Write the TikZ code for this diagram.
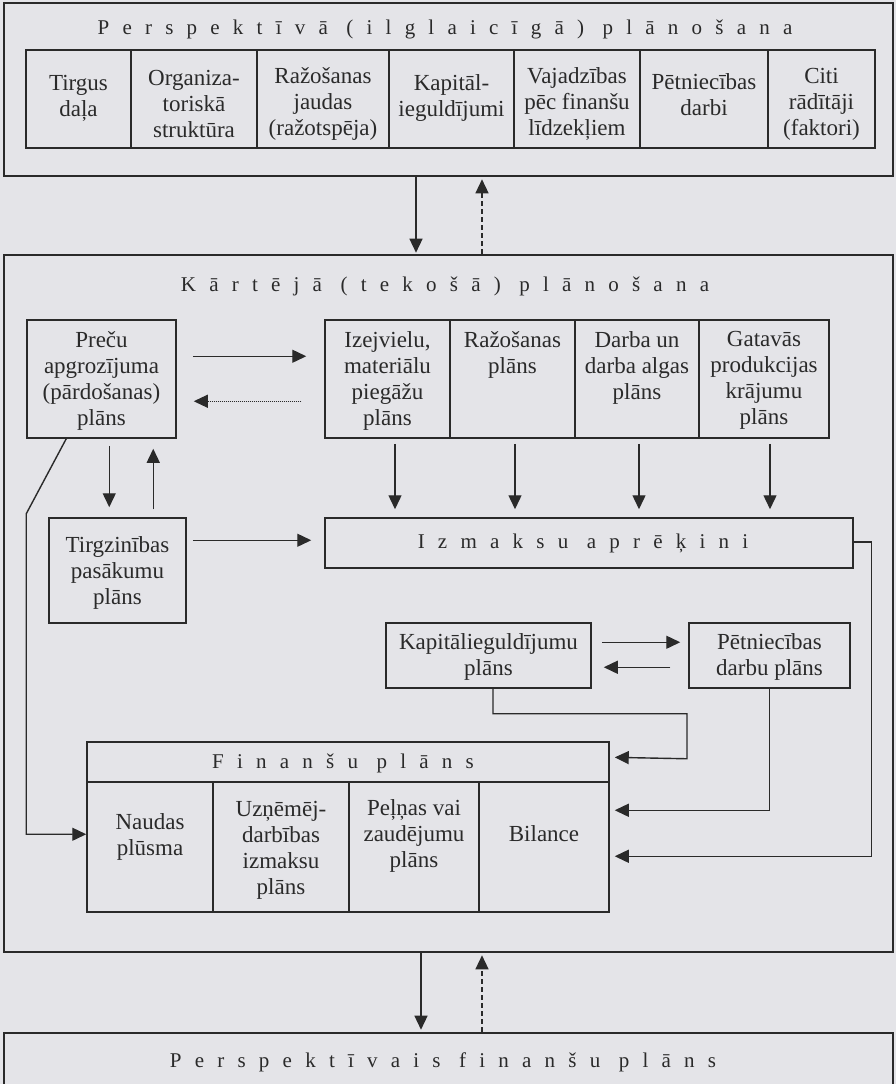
\documentclass[tikz,border=0pt]{standalone}
\usepackage{fontspec}
\setmainfont{Liberation Serif}
\newfontfamily\spacedfont[LetterSpace=63]{Liberation Serif}
\usetikzlibrary{arrows.meta,calc,fit}
\definecolor{paper}{RGB}{228,228,232}
\definecolor{ink}{RGB}{42,42,42}
\begin{document}
\begin{tikzpicture}[x=1pt,y=-1pt,
  outer/.style={draw=ink, line width=2.6pt, inner sep=0pt},
  cell/.style={draw=ink, line width=1.5pt, inner sep=0pt},
  txt/.style={text=ink, font=\fontsize{23}{26}\selectfont, align=center, inner sep=0pt},
  ttl/.style={text=ink, font=\fontsize{21}{24}\spacedfont, inner sep=0pt},
  arr/.style={draw=ink, line width=1.4pt, -{Triangle[length=14pt,width=13pt]}},
  dashedarr/.style={arr, dash pattern=on 5pt off 3pt},
  dottedarr/.style={arr, dash pattern=on 1pt off 1pt, line width=1.1pt},
]
\useasboundingbox (0,0) rectangle (896,1084);
\fill[paper] (0,0) rectangle (896,1084);

% ---------- top block
\node[outer, fit={(4,3) (893,176)}] (persp) {};
\node[ttl] (perspT) at (445,29) {Perspektīvā (ilglaicīgā) plānošana};
\node[cell, fit={(26,50) (131,148)}] (c1) {};
\node[cell, fit={(131,50) (257,148)}] (c2) {};
\node[cell, fit={(257,50) (389,148)}] (c3) {};
\node[cell, fit={(389,50) (514,148)}] (c4) {};
\node[cell, fit={(514,50) (640,148)}] (c5) {};
\node[cell, fit={(640,50) (768,148)}] (c6) {};
\node[cell, fit={(768,50) (875,148)}] (c7) {};
\node[txt] (c1T) at ([yshift=1pt]c1.center) {Tirgus\\daļa};
\node[txt] (c2T) at ([yshift=-5pt]c2.center) {Organiza-\\toriskā\\struktūra};
\node[txt] (c3T) at ([yshift=-5pt]c3.center) {Ražošanas\\jaudas\\(ražotspēja)};
\node[txt] (c4T) at ([yshift=1pt]c4.center) {Kapitāl-\\ieguldījumi};
\node[txt] (c5T) at ([yshift=-5pt]c5.center) {Vajadzības\\pēc finanšu\\līdzekļiem};
\node[txt] (c6T) at ([yshift=4pt]c6.center) {Pētniecības\\darbi};
\node[txt] (c7T) at ([yshift=-5pt]c7.center) {Citi\\rādītāji\\(faktori)};

% ---------- middle block
\node[outer, fit={(4,255) (893,952)}] (kart) {};
\node[ttl] (kartT) at (445,286) {Kārtējā (tekošā) plānošana};

\node[cell, fit={(27,320) (176,438)}] (prec) {};
\node[cell, fit={(325,320) (450,438)}] (izej) {};
\node[cell, fit={(450,320) (575,438)}] (raz) {};
\node[cell, fit={(575,320) (699,438)}] (darb) {};
\node[cell, fit={(699,320) (829,438)}] (gat) {};
\node[txt, anchor=north] (precT) at ([yshift=-12pt]prec.north) {Preču\\apgrozījuma\\(pārdošanas)\\plāns};
\node[txt, anchor=north] (izejT) at ([yshift=-12pt]izej.north) {Izejvielu,\\materiālu\\piegāžu\\plāns};
\node[txt, anchor=north] (razT) at ([yshift=-12pt]raz.north) {Ražošanas\\plāns};
\node[txt, anchor=north] (darbT) at ([yshift=-12pt]darb.north) {Darba un\\darba algas\\plāns};
\node[txt, anchor=north] (gatT) at ([yshift=-12pt]gat.north) {Gatavās\\produkcijas\\krājumu\\plāns};

\node[cell, fit={(49,518) (186,623)}] (tirg) {};
\node[txt] (tirgT) at ([yshift=-2pt]tirg.center) {Tirgzinības\\pasākumu\\plāns};

\node[cell, fit={(325,518) (853,568)}] (izm) {};
\node[ttl] (izmT) at (583,543) {Izmaksu aprēķini};

\node[cell, fit={(386,623) (591,688)}] (kap) {};
\node[txt] (kapT) at ([yshift=-1pt]kap.center) {Kapitālieguldījumu\\plāns};
\node[cell, fit={(689,623) (850,688)}] (pet) {};
\node[txt] (petT) at ([yshift=-1pt]pet.center) {Pētniecības\\darbu plāns};

\node[cell, fit={(87,742) (609,912)}] (fin) {};
\node[cell, fit={(87,742) (609,782)}] (finH) {};
\node[ttl] (finT) at (343,763) {Finanšu plāns};
\node[cell, fit={(87,782) (213,912)}] (f1) {};
\node[cell, fit={(213,782) (349,912)}] (f2) {};
\node[cell, fit={(349,782) (479,912)}] (f3) {};
\node[cell, fit={(479,782) (609,912)}] (f4) {};
\node[txt] (f1T) at (150,837) {Naudas\\plūsma};
\node[txt] (f2T) at (281,850) {Uzņēmēj-\\darbības\\izmaksu\\plāns};
\node[txt] (f3T) at (414,836) {Peļņas vai\\zaudējumu\\plāns};
\node[txt] (f4T) at (544,834) {Bilance};

% ---------- bottom block
\node[outer, fit={(4,1033) (893,1110)}] (pfin) {};
\node[ttl] (pfinT) at (443,1062) {Perspektīvais finanšu plāns};

% ---------- connectors
\draw[arr, shorten >=1pt] ([xshift=-32.5pt]persp.south) -- ([xshift=-32.5pt]kart.north);
\draw[dashedarr, shorten >=2pt] ([xshift=33.5pt]kart.north) -- ([xshift=33.5pt]persp.south);

\draw[arr, shorten <=16pt, shorten >=18pt] ([yshift=-37pt]prec.north east) -- ([yshift=-37pt]izej.north west);
\draw[dottedarr, shorten <=23pt, shorten >=17pt] ([yshift=-82pt]izej.north west) -- ([yshift=-82pt]prec.north east);

\draw[arr, shorten <=7pt, shorten >=10pt] ([xshift=83pt]prec.south west) -- ([xshift=61pt]tirg.north west);
\draw[arr, shorten <=8pt, shorten >=10pt] ([xshift=105pt]tirg.north west) -- ([xshift=127pt]prec.south west);
\draw[arr, shorten <=6pt, shorten >=13pt] ([yshift=-23pt]tirg.north east) -- ([yshift=-23pt]izm.north west);

\coordinate (a1) at ([xshift=7.5pt]izej.south);
\coordinate (a2) at ([xshift=2.5pt]raz.south);
\coordinate (a3) at ([xshift=2pt]darb.south);
\coordinate (a4) at ([xshift=6pt]gat.south);
\foreach \a in {a1,a2,a3,a4}{
  \draw[arr, shorten <=5pt, shorten >=8pt] (\a) -- (\a |- izm.north);
}

\draw[arr, shorten <=10pt, shorten >=8pt] ([yshift=-20pt]kap.north east) -- ([yshift=-20pt]pet.north west);
\draw[arr, shorten <=18pt, shorten >=12pt] ([yshift=-45pt]pet.north west) -- ([yshift=-45pt]kap.north east);

\draw[arr, shorten >=5pt] ([xshift=4.5pt]kap.south) -- ++(0,25) -- ++(194,0) -- ++(0,45) -- ([yshift=-16pt]fin.north east);
\draw[arr, shorten >=5pt] (pet.south) |- ([yshift=-69pt]fin.north east);
\draw[arr, shorten >=5pt] ([yshift=1pt]izm.east) -- ++(18,0) |- ([yshift=-115pt]fin.north east);
\draw[arr] ([xshift=40pt]prec.south west) -- ++(-40,75) |- ([yshift=-93pt]fin.north west);

\draw[arr, shorten >=2pt] ([xshift=-27.5pt]kart.south) -- ([xshift=-27.5pt]pfin.north);
\draw[dashedarr, shorten >=2pt] ([xshift=33.5pt]pfin.north) -- ([xshift=33.5pt]kart.south);
\end{tikzpicture}
\end{document}
